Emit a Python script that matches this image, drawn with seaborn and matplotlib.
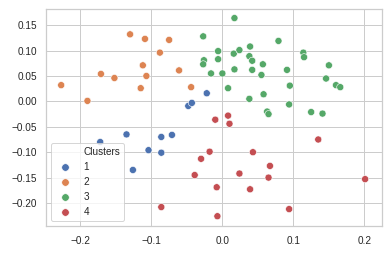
import matplotlib
matplotlib.use("Agg")
import matplotlib.pyplot as plt
from matplotlib.lines import Line2D
import pandas as pd
import seaborn as sns

# cluster 1 (blue)
c1_x = [-0.048, -0.043, -0.022, -0.172, -0.135, -0.086, -0.071, -0.104, -0.086, -0.126]
c1_y = [-0.009, -0.003, 0.016, -0.080, -0.065, -0.070, -0.066, -0.096, -0.101, -0.135]

# cluster 2 (orange)
c2_x = [-0.227, -0.190, -0.171, -0.152, -0.130, -0.109, -0.112, -0.107, -0.115,
        -0.088, -0.075, -0.061, -0.044]
c2_y = [0.032, 0.001, 0.054, 0.046, 0.132, 0.123, 0.071, 0.050, 0.026,
        0.096, 0.121, 0.061, 0.028]

# cluster 3 (green)
c3_x = [0.017, -0.027, 0.079, -0.006, 0.016, 0.024, 0.039, 0.038, 0.042, -0.026,
        -0.027, -0.006, 0.057, 0.114, 0.115, 0.150, -0.016, 0.000, 0.017, 0.042,
        0.055, 0.091, 0.146, 0.160, 0.166, 0.095, 0.008, 0.058, 0.038, 0.094,
        0.063, 0.065, 0.125, 0.141]
c3_y = [0.164, 0.128, 0.119, 0.099, 0.094, 0.101, 0.108, 0.089, 0.080, 0.081,
        0.073, 0.083, 0.073, 0.096, 0.087, 0.071, 0.055, 0.055, 0.063, 0.062,
        0.052, 0.062, 0.045, 0.032, 0.028, 0.031, 0.026, 0.014, 0.005, -0.006,
        -0.020, -0.025, -0.021, -0.024]

# cluster 4 (red)
c4_x = [-0.086, -0.039, -0.030, -0.018, -0.010, 0.010, 0.008, 0.135, 0.043,
        0.067, 0.024, 0.065, 0.201, -0.008, 0.039, 0.094, -0.007]
c4_y = [-0.208, -0.145, -0.113, -0.099, -0.036, -0.044, -0.028, -0.075, -0.100,
        -0.127, -0.142, -0.150, -0.153, -0.169, -0.173, -0.212, -0.226]

clusters = ["1", "2", "3", "4"]
xs = [c1_x, c2_x, c3_x, c4_x]
ys = [c1_y, c2_y, c3_y, c4_y]

df = pd.concat(
    [pd.DataFrame({"x": x, "y": y, "Clusters": c}) for c, x, y in zip(clusters, xs, ys)],
    ignore_index=True,
)

sns.set_theme(style="whitegrid")
plt.rcParams["font.family"] = ["Liberation Sans", "DejaVu Sans"]
plt.rcParams.update({"xtick.labelsize": 10, "ytick.labelsize": 10, "legend.fontsize": 10})

fig = plt.figure(figsize=(392 / 72, 262 / 72), dpi=72)
ax = fig.add_axes([0.118, 0.136, 0.856, 0.828])
sns.scatterplot(data=df, x="x", y="y", hue="Clusters", hue_order=clusters, s=50, ax=ax)
ax.set_xlim(-0.248, 0.2245)
ax.set_ylim(-0.246, 0.181)
ax.set_xlabel("")
ax.set_ylabel("")

# old-style seaborn legend: variable name as a first row with an empty handle
handles, labels = ax.get_legend_handles_labels()
for h in handles:
    h.set_markersize(7.5)
blank = Line2D([], [], linestyle="", marker="")
ax.legend([blank] + handles, ["Clusters"] + labels, loc="lower left")

fig.savefig("out.png", dpi=72)
